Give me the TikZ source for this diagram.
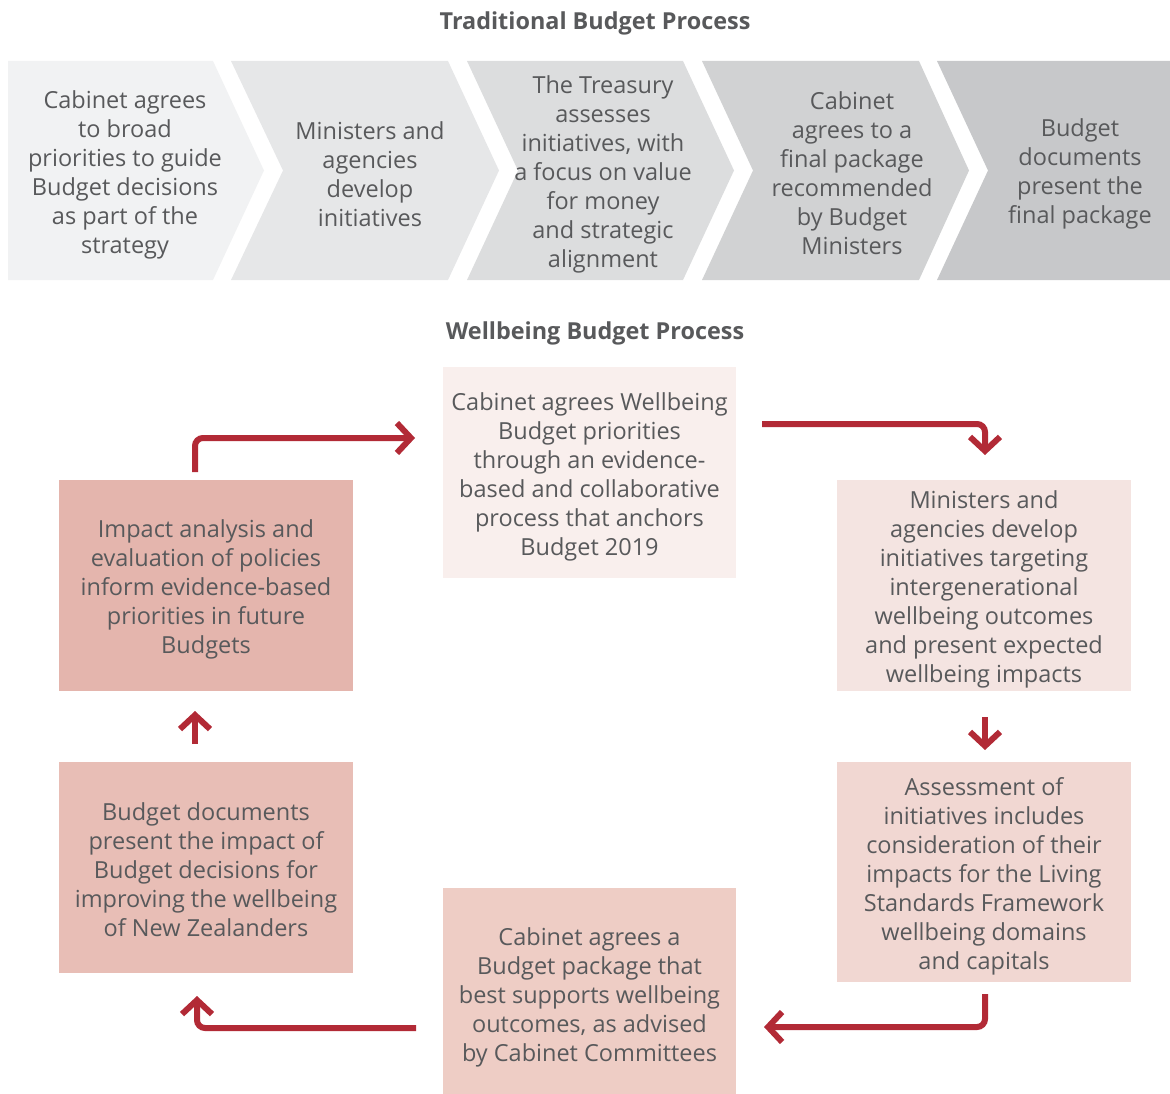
\documentclass[tikz,border=0pt]{standalone}
\usepackage{fontspec}
\setmainfont{Open Sans}
\usetikzlibrary{arrows.meta}
\definecolor{txt}{HTML}{58595B}
\definecolor{cA}{HTML}{F1F2F3}
\definecolor{cB}{HTML}{E6E7E8}
\definecolor{cC}{HTML}{DCDDDE}
\definecolor{cD}{HTML}{D1D2D3}
\definecolor{cE}{HTML}{C7C8CA}
\definecolor{pA}{HTML}{F9EFED}
\definecolor{pB}{HTML}{F4E4E1}
\definecolor{pC}{HTML}{F1D7D2}
\definecolor{pD}{HTML}{EECDC5}
\definecolor{pE}{HTML}{E8BEB6}
\definecolor{pF}{HTML}{E4B5AD}
\definecolor{red}{HTML}{B22A36}
\tikzset{
  lbl/.style={text=txt, align=center, font=\fontsize{23.5}{29}\selectfont, inner sep=0pt},
  ttl/.style={text=txt, font=\bfseries\fontsize{23.4}{28}\selectfont, inner sep=0pt},
  wbox/.style={minimum width=294pt, inner sep=0pt},
  arr/.style={draw=red, line width=6pt, rounded corners=8pt, line cap=butt,
    -{Straight Barb[length=14pt, width=30pt, line width=6pt, line join=miter]}},
}
\begin{document}
\begin{tikzpicture}[x=1pt, y=-1pt]
\useasboundingbox (0,0) rectangle (1170,1094);
% titles
\node[ttl] (t1title) at (595,23) {Traditional Budget Process};
\node[ttl] (t2title) at (595,333) {Wellbeing Budget Process};
% chevrons
\fill[cA] (8,61) -- (213,61) -- (264,170.5) -- (213,280) -- (8,280) -- cycle;
\fill[cB] (231,61) -- (448,61) -- (499,170.5) -- (448,280) -- (231,280) -- (283,170.5) -- cycle;
\fill[cC] (467,61) -- (683,61) -- (734,170.5) -- (683,280) -- (467,280) -- (518,170.5) -- cycle;
\fill[cD] (702,61) -- (919,61) -- (969,170.5) -- (919,280) -- (702,280) -- (753,170.5) -- cycle;
\fill[cE] (937,61) -- (1170,61) -- (1170,280) -- (937,280) -- (988,170.5) -- cycle;
\node[lbl] (c1) at (125,175) {Cabinet agrees\\to broad\\priorities to guide\\Budget decisions\\as part of the\\strategy};
\node[lbl] (c2) at (370,174) {Ministers and\\agencies\\develop\\initiatives};
\node[lbl] (c3) at (603,174) {The Treasury\\assesses\\initiatives, with\\a focus on value\\for money\\and strategic\\alignment};
\node[lbl] (c4) at (852,173) {Cabinet\\agrees to a\\final package\\recommended\\by Budget\\Ministers};
\node[lbl] (c5) at (1080,174) {Budget\\documents\\present the\\final package};
% wellbeing boxes
\node[wbox, fill=pA, minimum width=293pt, minimum height=211pt] (tc) at (589.5,472.5) {};
\node[wbox, fill=pB, minimum height=211pt] (rt) at (984,585.5) {};
\node[wbox, fill=pC, minimum height=220pt] (rb) at (984,872) {};
\node[wbox, fill=pD, minimum width=293pt, minimum height=206pt] (bc) at (589.5,991) {};
\node[wbox, fill=pE, minimum height=211pt] (lb) at (206,867.5) {};
\node[wbox, fill=pF, minimum height=211pt] (lt) at (206,585.5) {};
\node[lbl] (tcT) at ([yshift=-4pt]tc.center) {Cabinet agrees Wellbeing\\Budget priorities\\through an evidence-\\based and collaborative\\process that anchors\\Budget 2019};
\node[lbl] (rtT) at ([yshift=-4pt]rt.center) {Ministers and\\agencies develop\\initiatives targeting\\intergenerational\\wellbeing outcomes\\and present expected\\wellbeing impacts};
\node[lbl] (rbT) at ([yshift=-4pt]rb.center) {Assessment of\\initiatives includes\\consideration of their\\impacts for the Living\\Standards Framework\\wellbeing domains\\and capitals};
\node[lbl] (bcT) at ([yshift=-6pt]bc.center) {Cabinet agrees a\\Budget package that\\best supports wellbeing\\outcomes, as advised\\by Cabinet Committees};
\node[lbl] (lbT) at ([yshift=-2pt]lb.center) {Budget documents\\present the impact of\\Budget decisions for\\improving the wellbeing\\of New Zealanders};
\node[lbl] (ltT) at ([yshift=-4pt]lt.center) {Impact analysis and\\evaluation of policies\\inform evidence-based\\priorities in future\\Budgets};
% arrow end coordinates
\coordinate (a1s) at (195,472);
\coordinate (a1e) at (415,438);
\coordinate (a2s) at (762,424);
\coordinate (a2e) at (985,455);
\coordinate (a3s) at (985,717);
\coordinate (a3e) at (985,750);
\coordinate (a4s) at (985,994);
\coordinate (a4e) at (764,1027);
\coordinate (a5s) at (416,1028);
\coordinate (a5e) at (197,996);
\coordinate (a6s) at (195,744);
\coordinate (a6e) at (195,711);
\draw[arr] (a1s) |- (a1e);
\draw[arr] (a2s) -| (a2e);
\draw[arr] (a3s) -- (a3e);
\draw[arr] (a4s) |- (a4e);
\draw[arr] (a5s) -| (a5e);
\draw[arr] (a6s) -- (a6e);
\end{tikzpicture}
\end{document}
